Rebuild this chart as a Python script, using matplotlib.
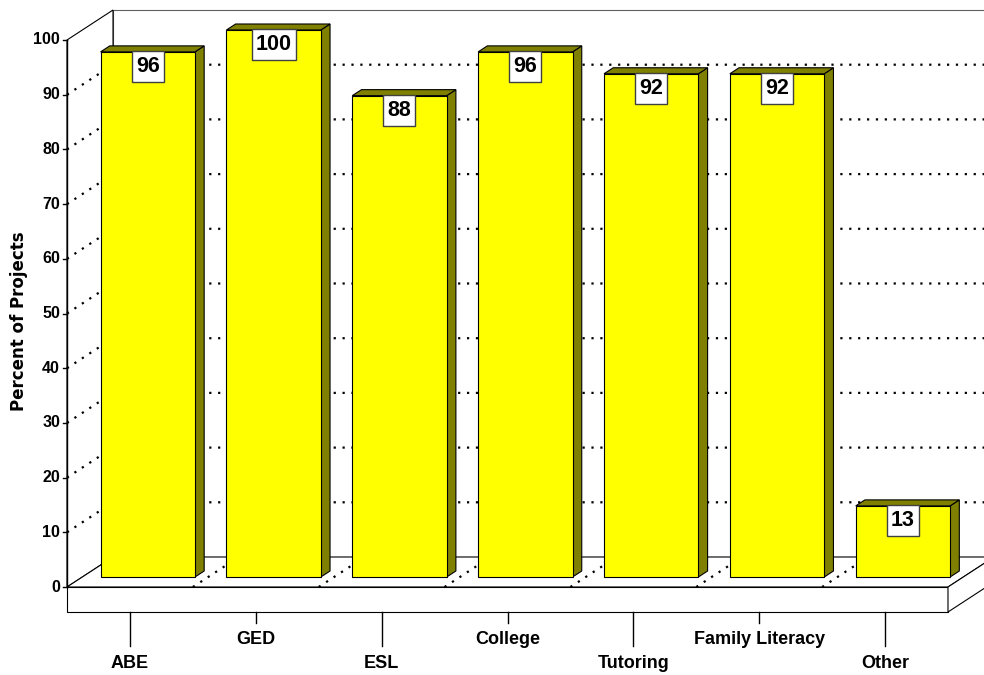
import numpy as np
import matplotlib
matplotlib.use("Agg")
import matplotlib.pyplot as plt
from matplotlib.patches import Polygon
from matplotlib.lines import Line2D
from matplotlib.transforms import IdentityTransform

categories = ['ABE', 'GED', 'ESL', 'College', 'Tutoring', 'Family Literacy', 'Other']
percents = [96, 100, 88, 96, 92, 92, 13]
yticks = [0, 10, 20, 30, 40, 50, 60, 70, 80, 90, 100]

plt.rcParams['font.family'] = ['Liberation Sans', 'DejaVu Sans']
plt.rcParams['font.weight'] = 'bold'

W, H = 984, 675
fig = plt.figure(figsize=(W / 100, H / 100), dpi=100)
ax = fig.add_axes([67 / W, 88 / H, 881 / W, 547 / H])
ax.set_xlim(-0.5, len(categories) - 0.5)
ax.set_ylim(0, 100)
ax.axis('off')

# oblique depth: full depth of the box in pixels
DEPTH_X, DEPTH_Y = 46, 30
BAR_D0, BAR_D1 = 1 / 3, 1 / 3 + 0.2
BAR_W = 0.75
BAR_SHIFT = 0.02
SLAB = 25  # floor thickness, pixels

YELLOW = '#ffff00'
OLIVE = '#808000'


def proj(x, y, d=0.0, dx=0.0, dy=0.0):
    px, py = ax.transData.transform((x, y))
    return (px + DEPTH_X * d + dx, py + DEPTH_Y * d + dy)


def poly(pts, fc, ec='black', lw=0.8, z=1):
    p = Polygon(pts, closed=True, facecolor=fc, edgecolor=ec, linewidth=lw,
                transform=IdentityTransform(), zorder=z, clip_on=False)
    fig.add_artist(p)


def line(pts, z=2, **kw):
    xs, ys = zip(*pts)
    fig.add_artist(Line2D(xs, ys, transform=IdentityTransform(), zorder=z, **kw))


def label(px, py, s, **kw):
    return fig.text(px / W, py / H, s, **kw)


x0, x1 = -0.5, len(categories) - 0.5

# walls
poly([proj(x0, 0, 1), proj(x1, 0, 1), proj(x1, 100, 1), proj(x0, 100, 1)], 'white', ec='#606060')
poly([proj(x0, 0, 0), proj(x0, 0, 1), proj(x0, 100, 1), proj(x0, 100, 0)], 'white')

# floor slab
poly([proj(x0, 0, 0), proj(x1, 0, 0), proj(x1, 0, 1), proj(x0, 0, 1)], 'white', z=1.5)
poly([proj(x0, 0, 0, dy=-SLAB), proj(x1, 0, 0, dy=-SLAB), proj(x1, 0, 0), proj(x0, 0, 0)], 'white', z=1.5)
poly([proj(x1, 0, 0, dy=-SLAB), proj(x1, 0, 1, dy=-SLAB), proj(x1, 0, 1), proj(x1, 0, 0)], 'white', z=1.5)

dots = dict(color='black', linewidth=1.6, linestyle=(0, (1, 3)))

# value gridlines on the left and back walls
for v in yticks[1:-1]:
    line([proj(x0, v, 0), proj(x0, v, 1), proj(x1, v, 1)], **dots)

# category dividers on the floor
for i in range(len(categories) - 1):
    line([proj(i + 0.5, 0, 0), proj(i + 0.5, 0, 1)], z=1.8, **dots)

# front vertical axis with ticks and labels
line([proj(x0, 0, 0), proj(x0, 100, 0)], color='black', linewidth=1)
for v in yticks:
    line([proj(x0, v, 0, dx=-4), proj(x0, v, 0)], color='black', linewidth=1)
    px, py = proj(x0, v, 0, dx=-7)
    label(px, py, str(v), ha='right', va='center', fontsize=11.5, fontweight='bold')

label(19, H - 321, 'Percent of Projects', rotation=90, ha='center', va='center',
      fontsize=12, fontweight='bold', family='DejaVu Sans')

# bars
for i, (cat, val) in enumerate(zip(categories, percents)):
    c = i + BAR_SHIFT
    l, r = c - BAR_W / 2, c + BAR_W / 2
    poly([proj(r, 0, BAR_D0), proj(r, 0, BAR_D1), proj(r, val, BAR_D1), proj(r, val, BAR_D0)], OLIVE, z=3)
    poly([proj(l, val, BAR_D0), proj(r, val, BAR_D0), proj(r, val, BAR_D1), proj(l, val, BAR_D1)], OLIVE, z=3)
    poly([proj(l, 0, BAR_D0), proj(r, 0, BAR_D0), proj(r, val, BAR_D0), proj(l, val, BAR_D0)], YELLOW, z=3.1)

    # value box hanging from the top of the front face
    txt = str(val)
    bw = 8 + 12 * len(txt)
    bh = 31
    cx, top = proj(c, val, BAR_D0, dy=1)
    poly([(cx - bw / 2, top), (cx + bw / 2, top), (cx + bw / 2, top - bh), (cx - bw / 2, top - bh)],
         'white', ec='#404040', lw=1, z=4)
    label(cx, top - bh / 2, txt, ha='center', va='center', fontsize=15.5,
          fontweight='bold', zorder=5)

    # category ticks and staggered labels
    tick = 34 if i % 2 == 0 else 11
    line([proj(i, 0, 0, dy=-SLAB), proj(i, 0, 0, dy=-SLAB - tick)], color='black', linewidth=1)
    lx, ly = proj(i, 0, 0, dy=-SLAB - (51 if i % 2 == 0 else 28))
    label(lx, ly, cat, ha='center', va='center', fontsize=13, fontweight='bold')

fig.savefig('out.png', dpi=100)
